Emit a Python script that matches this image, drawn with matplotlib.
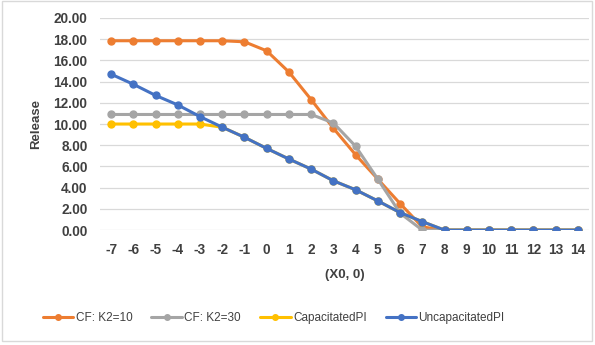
"""
Release vs (X0, 0) for the CF and PI policies
"""

import matplotlib

matplotlib.use("Agg")
import matplotlib.pyplot as plt
from matplotlib.patches import Rectangle

plt.rcParams["font.family"] = ["Liberation Sans", "DejaVu Sans"]

x_vals = list(range(-7, 15))
x_labels = [str(v) for v in x_vals]

cf_k10 = [17.85, 17.85, 17.85, 17.85, 17.85, 17.85, 17.75, 16.9, 14.9, 12.3,
          9.6, 7.1, 4.8, 2.5, 0.3, 0, 0, 0, 0, 0, 0, 0]
cf_k30 = [10.9, 10.9, 10.9, 10.9, 10.9, 10.9, 10.9, 10.9, 10.9, 10.9,
          10.1, 7.9, 4.8, 1.6, 0, 0, 0, 0, 0, 0, 0, 0]
cap_pi = [10.0, 10.0, 10.0, 10.0, 10.0, 9.7, 8.75, 7.7, 6.7, 5.75,
          4.65, 3.8, 2.75, 1.65, 0.8, 0, 0, 0, 0, 0, 0, 0]
uncap_pi = [14.7, 13.75, 12.7, 11.8, 10.7, 9.7, 8.75, 7.7, 6.7, 5.75,
            4.65, 3.8, 2.75, 1.65, 0.8, 0, 0, 0, 0, 0, 0, 0]

series = [
    ("CF: K2=10", cf_k10, "#ED7D31"),
    ("CF: K2=30", cf_k30, "#A5A5A5"),
    ("CapacitatedPI", cap_pi, "#FFC000"),
    ("UncapacitatedPI", uncap_pi, "#4472C4"),
]

TEXT = "#404040"

fig = plt.figure(figsize=(5.95, 3.45), dpi=100)
fig.patches.append(Rectangle((0.003, 0.012), 0.992, 0.985, transform=fig.transFigure,
                             fill=False, edgecolor="#d9d9d9", linewidth=1))
ax = fig.add_axes([0.168, 0.333, 0.822, 0.615])

pos = list(range(len(x_vals)))
for name, vals, color in series:
    ax.plot(pos, vals, color=color, linewidth=2.2, marker="o", markersize=5,
            label=name, solid_capstyle="round")

ax.set_xlim(-0.5, len(x_vals) - 0.5)
ax.set_ylim(0, 20)
ax.set_yticks([i * 2 for i in range(11)])
ax.set_yticklabels([f"{i * 2:.2f}" for i in range(11)])
ax.set_xticks(pos)
ax.set_xticklabels(x_labels)
ax.grid(axis="y", color="#d9d9d9", linewidth=0.9)
ax.set_axisbelow(True)
for side in ["top", "right", "left", "bottom"]:
    ax.spines[side].set_visible(False)
ax.tick_params(length=0, labelsize=9.8, labelcolor=TEXT, pad=9)
for lbl in ax.get_xticklabels() + ax.get_yticklabels():
    lbl.set_fontweight("bold")

ax.set_ylabel("Release", fontsize=9.5, fontweight="bold", color=TEXT, labelpad=8)
ax.set_xlabel("(X0, 0)", fontsize=9.5, fontweight="bold", color=TEXT, labelpad=9)

leg = fig.legend(loc="center", bbox_to_anchor=(0.46, 0.078), ncol=4, frameon=False,
                 fontsize=8.5, labelcolor=TEXT, handlelength=2.6, columnspacing=1.6,
                 handletextpad=0.2, markerscale=0.8)

fig.savefig("out.png", dpi=100)
plt.close(fig)
